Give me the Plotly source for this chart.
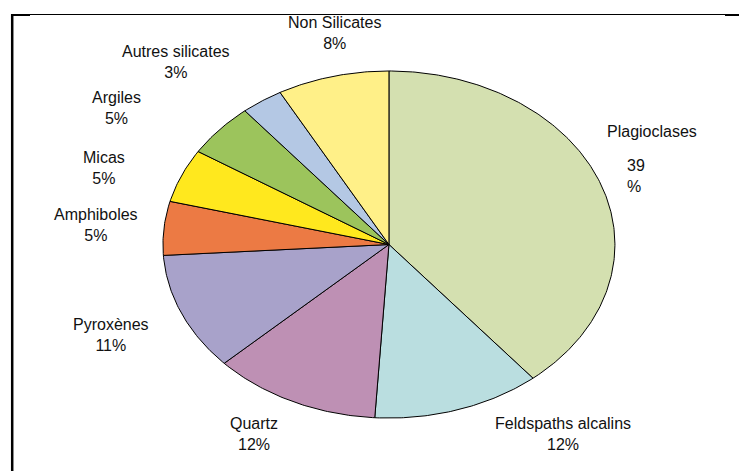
import numpy as np
import plotly.graph_objects as go

# Mineral composition (percent), listed clockwise from 12 o'clock
minerals = ["Plagioclases", "Feldspaths alcalins", "Quartz", "Pyroxènes",
            "Amphiboles", "Micas", "Argiles", "Autres silicates", "Non Silicates"]
shares = [39, 12, 12, 11, 5, 5, 5, 3, 8]
colors = ["#D4E0B0", "#BADEE0", "#BE90B4", "#A8A2CA", "#EC7A44",
          "#FFE81E", "#9CC45C", "#B4C8E4", "#FFF088"]

# Label anchors in unit-circle coordinates (centre of the two-line label)
label_pos = {
    "Feldspaths alcalins": (0.770, -1.092),
    "Quartz": (-0.597, -1.091),
    "Pyroxènes": (-1.230, -0.519),
    "Amphiboles": (-1.296, 0.112),
    "Micas": (-1.263, 0.441),
    "Argiles": (-1.204, 0.785),
    "Autres silicates": (-0.942, 1.050),
    "Non Silicates": (-0.243, 1.218),
}
# The wide right-hand label wraps: name alone, then value and sign stacked
plagio_name_pos = (1.164, 0.651)
plagio_value_pos = (1.044, 0.396)

fig = go.Figure()

total = float(sum(shares))
cum = 0.0
for name, val, col in zip(minerals, shares, colors):
    f0, f1 = cum / total, (cum + val) / total
    theta = np.linspace(f0, f1, max(int(val * 6), 24)) * 2 * np.pi
    xs = np.concatenate([[0.0], np.sin(theta), [0.0]])
    ys = np.concatenate([[0.0], np.cos(theta), [0.0]])
    fig.add_trace(go.Scatter(
        x=xs, y=ys, mode="lines", fill="toself", fillcolor=col,
        line=dict(color="#000000", width=1),
        name=name, hoveron="fills", hoverinfo="text",
        text=f"{name}: {val}%", showlegend=False,
    ))
    cum += val

font = dict(family="Liberation Sans, Arial, sans-serif", size=16, color="#111111")
annotations = []
for name, val in zip(minerals, shares):
    if name == "Plagioclases":
        nx, ny = plagio_name_pos
        annotations.append(dict(x=nx, y=ny, xref="x", yref="y", text=name,
                                showarrow=False, font=font,
                                xanchor="center", yanchor="middle"))
        vx, vy = plagio_value_pos
        annotations.append(dict(x=vx, y=vy, xref="x", yref="y",
                                text=f"{val}<br>%", showarrow=False,
                                font=font, align="left",
                                xanchor="left", yanchor="middle"))
    else:
        lx, ly = label_pos[name]
        annotations.append(dict(x=lx, y=ly, xref="x", yref="y",
                                text=f"{name}<br>{val}%", showarrow=False,
                                font=font, align="center",
                                xanchor="center", yanchor="middle"))

W, H = 739, 471

def px_x(v):
    return v / W

def px_y(v):
    return 1 - v / H

# Frame lines along the top and left edge
shapes = [
    dict(type="line", xref="paper", yref="paper",
         x0=px_x(11), x1=1, y0=px_y(14.5), y1=px_y(14.5),
         line=dict(color="black", width=1)),
    dict(type="line", xref="paper", yref="paper",
         x0=px_x(11), x1=px_x(30), y0=px_y(15), y1=px_y(15),
         line=dict(color="black", width=2)),
    dict(type="line", xref="paper", yref="paper",
         x0=px_x(725), x1=1, y0=px_y(15), y1=px_y(15),
         line=dict(color="black", width=2)),
    dict(type="line", xref="paper", yref="paper",
         x0=px_x(12.2), x1=px_x(12.2), y0=px_y(14), y1=0,
         line=dict(color="black", width=2.5)),
]

fig.update_layout(
    width=W, height=H, autosize=False,
    margin=dict(l=0, r=0, t=0, b=0),
    paper_bgcolor="white", plot_bgcolor="white",
    xaxis=dict(range=[-1.721, 1.549], visible=False, fixedrange=True),
    yaxis=dict(range=[-1.305, 1.409], visible=False, fixedrange=True),
    annotations=annotations, shapes=shapes,
)

fig.write_html("out.html")
